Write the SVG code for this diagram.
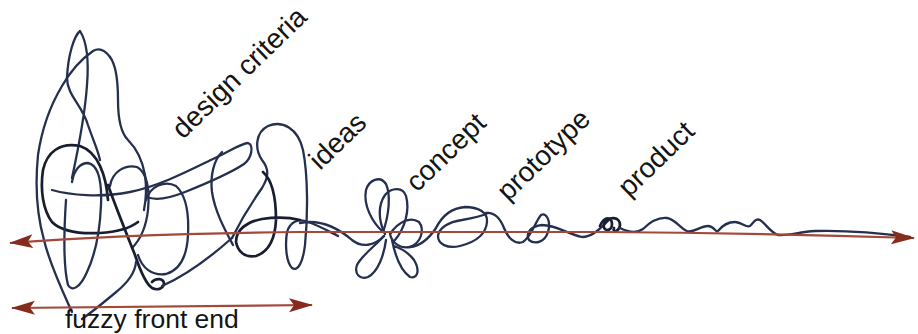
<svg xmlns="http://www.w3.org/2000/svg" width="918" height="334" viewBox="0 0 918 334">
<style>
.sq{fill:none;stroke:#25304f;stroke-width:2.3;stroke-linecap:round;stroke-linejoin:round}
.dk{fill:none;stroke:#181d30;stroke-width:2.7;stroke-linecap:round;stroke-linejoin:round}
.ar{fill:none;stroke:#a4483a;stroke-width:2.2}
.lb{font-family:"Liberation Sans",Arial,Helvetica,sans-serif;font-size:28px;fill:#141414}
</style>
<defs>
<marker id="ah" viewBox="0 0 24 16" refX="23" refY="8" markerWidth="24" markerHeight="16" markerUnits="userSpaceOnUse" orient="auto-start-reverse">
<path d="M0,1 L24,8 L0,15 L5,8 Z" fill="#862c1f"/>
</marker>
</defs>
<rect width="918" height="334" fill="#ffffff"/>
<g id="squiggle">
<path class="sq" d="M110,57 C104,49 98,48 93,51 C80,60 70,72 62,86 C50,106 42,128 38,155 C35,185 37,215 44,240 C50,265 62,290 72,312"/>
<path class="sq" d="M110,57 C116,65 118,80 118,100 C118,118 120,132 128,140 C136,148 142,158 145,175 C147,190 146,200 144,210"/>
<path class="sq" d="M72,178 C78,150 85,115 87,85 C89,60 87,42 80,31 C74,36 68,55 67,78 C67,95 82,105 88,125 C93,140 98,150 100,160"/>
<path class="dk" d="M108,200 C106,175 98,152 80,146 C60,142 47,152 43,170 C40,190 43,210 52,222 C62,232 80,234 100,233 C118,232 130,228 138,222"/>
<path class="sq" d="M66,200 C64,230 63,265 68,285 C72,292 80,288 87,272 C95,255 100,230 101,205 C102,180 98,165 88,163 C80,163 74,170 72,182"/>
<path class="sq" d="M52,190 C70,195 100,198 130,192 C160,186 190,170 215,158 C230,151 242,143 248,143 C254,145 252,158 244,164 C232,172 210,182 185,192 C170,198 158,200 150,198"/>
<path class="sq" d="M110,186 C112,172 125,164 137,167 C147,172 150,190 148,210 C146,228 140,240 132,248"/>
<path class="sq" d="M146,200 C150,186 165,180 176,186 C186,195 189,215 188,235 C187,255 180,270 166,274 C152,276 142,268 138,255"/>
<path class="dk" d="M108,185 C115,205 125,230 135,255 C140,270 145,283 152,288 C158,291 164,288 164,283 C163,278 156,278 152,282"/>
<path class="sq" d="M162,286 C180,278 205,262 232,238"/>
<path class="sq" d="M136,262 C135,275 125,285 115,293 C103,303 92,312 82,319"/>
<path class="sq" d="M233,245 C225,230 215,212 212,192 C210,175 214,160 222,152"/>
<path class="sq" d="M232,238 C240,222 250,205 262,188 C268,178 270,170 262,160 C254,148 256,132 268,126 C282,120 298,128 303,150 C308,175 308,215 305,245 C303,262 298,272 292,268 C286,262 285,245 287,232 C290,222 298,218 308,222 C320,226 330,232 338,236"/>
<path class="dk" d="M263,172 C272,180 276,198 276,220 C275,240 268,252 256,256 C245,258 238,252 236,242 C236,230 246,222 262,219 C275,217 288,217 300,220"/>
<path class="sq" d="M300,223 C320,219 338,228 352,240 C362,248 374,246 384,236"/>
<path class="sq" d="M383,232 C372,222 363,205 366,190 C369,180 380,175 386,184 C391,195 389,215 383,232"/>
<path class="sq" d="M385,234 C378,220 378,205 385,195 C392,187 403,187 406,196 C410,210 405,228 395,240"/>
<path class="sq" d="M390,234 C398,222 410,216 419,222 C425,230 421,243 410,247 C400,249 392,243 390,234"/>
<path class="sq" d="M384,236 C375,246 362,255 357,265 C354,274 360,280 368,277 C378,272 384,255 386,240"/>
<path class="sq" d="M392,240 C395,255 400,270 410,277 C418,279 420,270 414,260 C408,252 400,248 394,246"/>
<path class="sq" d="M410,247 C420,246 428,240 436,228 C442,216 452,208 465,207 C478,207 488,212 487,222 C486,234 476,242 460,246 C447,249 438,244 438,236 C439,228 448,222 462,220 C474,218 482,216 488,213"/>
<path class="sq" d="M486,213 C495,212 500,218 504,228 C508,238 515,245 523,242 C532,236 535,222 541,215 C547,212 551,222 548,232 C545,242 535,245 529,240 C525,232 532,226 542,225 C556,225 568,234 582,237 C594,237 602,226 610,219"/>
<path class="dk" d="M600,226 C604,216 612,216 612,224 C612,232 602,232 604,224 C608,216 620,216 620,225 C619,232 612,233 614,228"/>
<path class="sq" d="M620,228 C628,232 636,234 643,229 C650,222 658,217 667,218 C675,219 680,228 687,231 C694,233 700,226 708,226 C714,226 716,233 718,231 C722,226 728,222 735,222 C742,222 746,228 750,226 C754,222 756,218 760,220 C766,224 770,232 778,235 C790,236 798,232 815,231 C850,230 880,233 910,237"/>
</g>
<g id="arrows">
<path class="ar" d="M10,243 C100,236 200,233 300,232 L600,232 C750,233 850,236 914,238" marker-start="url(#ah)" marker-end="url(#ah)"/>
<path class="ar" d="M12,308 L312,305" marker-start="url(#ah)" marker-end="url(#ah)"/>
</g>
<g id="labels">
<text class="lb" transform="translate(183,140) rotate(-44)">design criteria</text>
<text class="lb" transform="translate(320,171) rotate(-44)">ideas</text>
<text class="lb" transform="translate(417,193) rotate(-44)">concept</text>
<text class="lb" transform="translate(508,202) rotate(-44)">prototype</text>
<text class="lb" transform="translate(629,198) rotate(-44)">product</text>
<text class="lb" x="65" y="328" style="font-size:26.5px">fuzzy front end</text>
</g>
</svg>
